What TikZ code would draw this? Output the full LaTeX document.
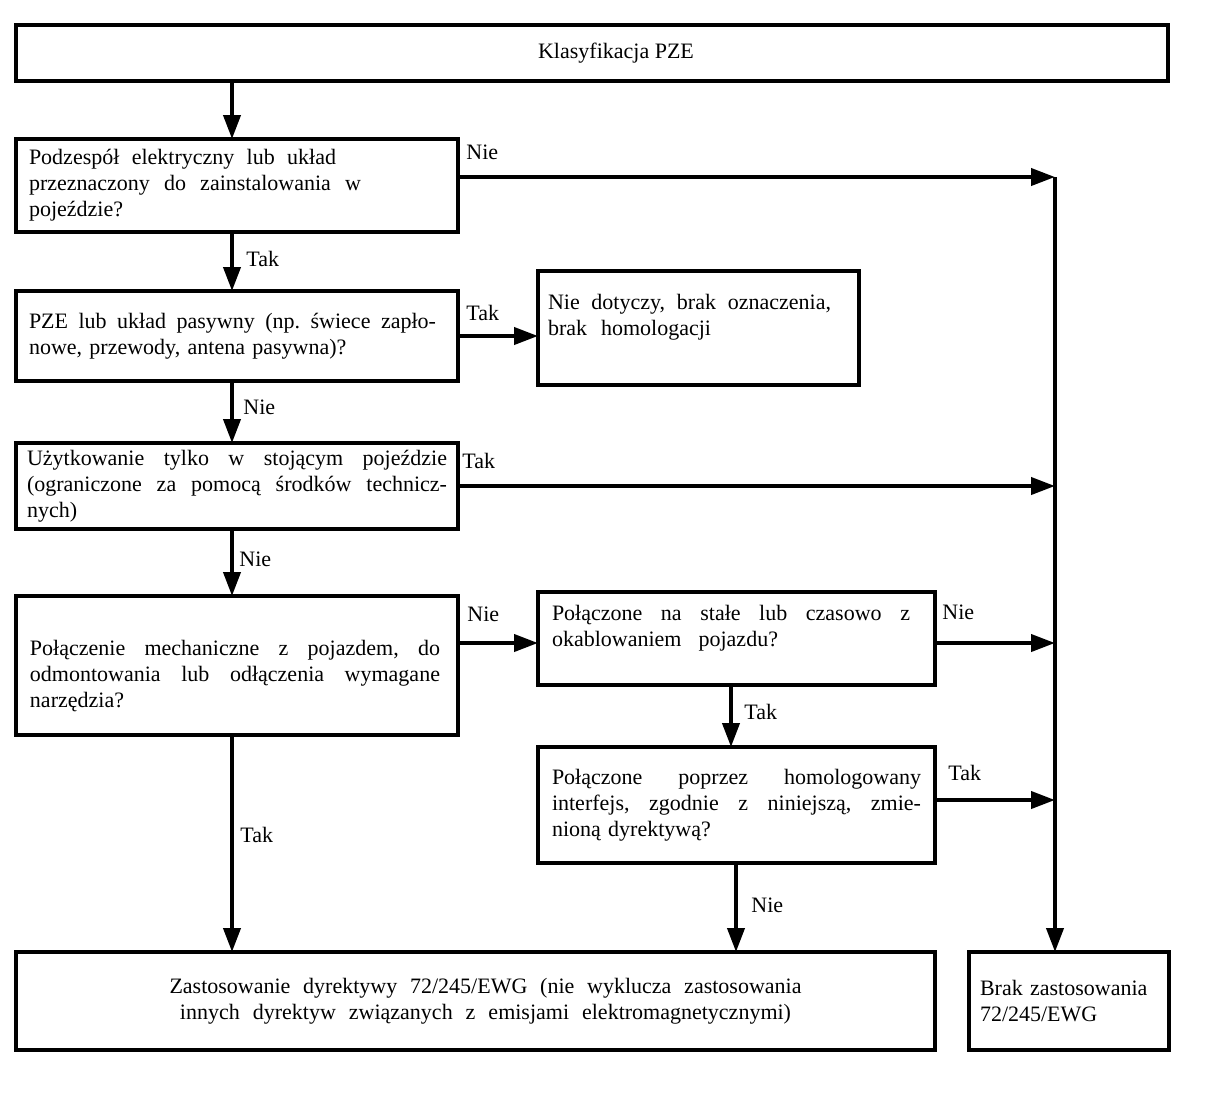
\documentclass[tikz,border=0pt]{standalone}
\usepackage{fontspec}
\setmainfont{Liberation Serif}
\usetikzlibrary{arrows.meta}
\newcommand\jline[2]{\makebox[#1][s]{\spaceskip=0pt\xspaceskip=0pt\frenchspacing\relax #2}}
\begin{document}
\begin{tikzpicture}[x=0.5pt,y=-0.5pt,
  box/.style={draw, line width=2pt, outer sep=0pt, anchor=north west, inner xsep=6.5pt, inner ysep=0pt, align=left, font=\fontsize{11pt}{13pt}\selectfont},
  conn/.style={line width=2pt, -{Triangle[length=12pt,width=8.5pt]}},
  lbl/.style={anchor=west, inner sep=0pt, font=\fontsize{11pt}{13pt}\selectfont}]
\useasboundingbox[fill=white] (0,0) rectangle (1211,1105);

\node[box, minimum width=576pt, minimum height=28pt, align=center] (b1) at (16,25) {\hspace*{24pt}Klasyfikacja PZE};

\node[box, minimum width=221pt, text width=208pt, minimum height=46.5pt] (b2) at (16,139)
 {\jline{153.5pt}{Podzespół elektryczny lub układ}\\ \jline{166pt}{przeznaczony do zainstalowania w}\\ pojeździe?};

\node[box, minimum width=221pt, text width=208pt, minimum height=45pt] (b3) at (16,291)
 {\jline{203.5pt}{PZE lub układ pasywny (np. świece zapło-}\\ nowe, przewody, antena pasywna)?};

\node[box, inner xsep=5pt, minimum width=160.5pt, text width=150.5pt, minimum height=57pt] (nd) at (538,271)
 {\jline{141.5pt}{Nie dotyczy, brak oznaczenia,}\\ \jline{81.5pt}{brak homologacji}\\ \mbox{}};

\node[box, inner xsep=5.5pt, minimum width=221pt, text width=210pt, minimum height=43pt] (b4) at (16,443)
 {\jline{210pt}{Użytkowanie tylko w stojącym pojeździe}\\ \jline{210pt}{(ograniczone za pomocą środków technicz-}\\ nych)};

\node[box, inner xsep=7pt, minimum width=221pt, text width=207pt, minimum height=69.5pt] (b5) at (16,596)
 {\rule{0pt}{18pt}\jline{205pt}{Połączenie mechaniczne z pojazdem, do}\\ \jline{205pt}{odmontowania lub odłączenia wymagane}\\ narzędzia?};

\node[box, inner xsep=7pt, minimum width=198.5pt, text width=184.5pt, minimum height=46.5pt] (b6) at (538,592)
 {\jline{179pt}{Połączone na stałe lub czasowo z}\\ \jline{113pt}{okablowaniem pojazdu?}\\ \mbox{}};

\node[box, inner xsep=7pt, minimum width=198.5pt, text width=184.5pt, minimum height=58pt] (b7) at (538,747)
 {\jline{184.5pt}{Połączone poprzez homologowany}\\ \jline{184.5pt}{interfejs, zgodnie z niniejszą, zmie-}\\ nioną dyrektywą?};

\node[box, align=center, minimum width=459.5pt, text width=446.5pt, minimum height=49pt] (b8) at (16,952)
 {\hspace*{10pt}\jline{316pt}{Zastosowanie dyrektywy 72/245/EWG (nie wyklucza zastosowania}\\ \hspace*{10pt}\jline{305.5pt}{innych dyrektyw związanych z emisjami elektromagnetycznymi)}};

\node[box, inner xsep=5.5pt, minimum width=100pt, text width=89pt, minimum height=49pt] (b9) at (969,952)
 {Brak zastosowania\\ 72/245/EWG};

% helper coordinates
\coordinate (cA) at (232,0);
\coordinate (cB) at (731,0);
\coordinate (cC) at (736,0);
\coordinate (r1) at (1055,177);
\coordinate (m6) at (0,643);
\coordinate (m7) at (0,800);

% main column
\draw[conn] (b1.south -| cA) -- (b2.north -| cA);
\draw[conn] (b2.south -| cA) -- (b3.north -| cA);
\draw[conn] (b3.south -| cA) -- (b4.north -| cA);
\draw[conn] (b4.south -| cA) -- (b5.north -| cA);
\draw[conn] (b5.south -| cA) -- (b8.north -| cA);

% side branches
\draw[conn] (b3.east) -- (nd.west |- b3.east);
\draw[conn] (b5.east |- m6) -- (b6.west |- m6);
\draw[conn] (b6.south -| cB) -- (b7.north -| cB);
\draw[conn] (b7.south -| cC) -- (b8.north -| cC);

% right rail
\draw[conn] (b2.east |- r1) -- (r1);
\draw[conn] (r1) -- (b9.north -| r1);
\draw[conn] (b4.east) -- (b4.east -| r1);
\draw[conn] (b6.east |- m6) -- (r1 |- m6);
\draw[conn] (b7.east |- m7) -- (r1 |- m7);

% labels
\node[lbl] (l1) at (466,152) {Nie};
\node[lbl] (l2) at (246,259) {Tak};
\node[lbl] (l3) at (466,313) {Tak};
\node[lbl] (l4) at (243,407) {Nie};
\node[lbl] (l5) at (462,461) {Tak};
\node[lbl] (l6) at (239,559) {Nie};
\node[lbl] (l7) at (467,614) {Nie};
\node[lbl] (l8) at (942,612) {Nie};
\node[lbl] (l9) at (744,712) {Tak};
\node[lbl] (l10) at (948,773) {Tak};
\node[lbl] (l11) at (240,835) {Tak};
\node[lbl] (l12) at (751,905) {Nie};
\end{tikzpicture}
\end{document}
